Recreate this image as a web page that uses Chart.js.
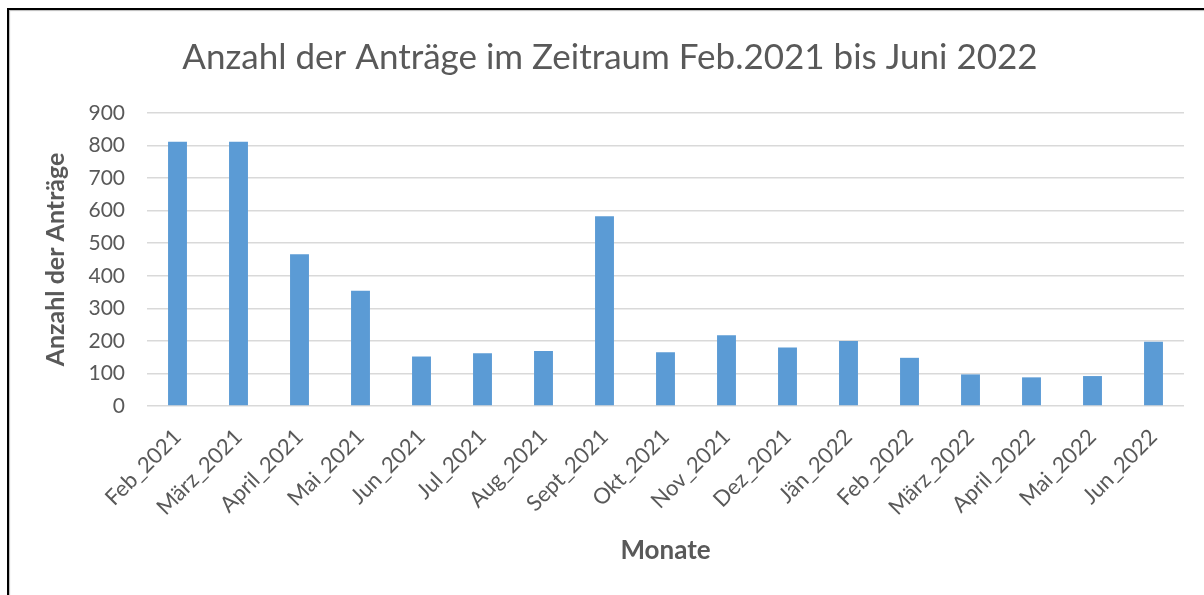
<!DOCTYPE html>
<html>
<head>
<meta charset="utf-8">
<script src="https://cdn.jsdelivr.net/npm/chart.js@4/dist/chart.umd.min.js"></script>
<style>
    body { margin: 0; overflow: hidden; background: #fff; }
    #wrap { position: relative; width: 1204px; height: 595px; }
    #frame { position: absolute; left: 7px; top: 8px; width: 1210px; height: 600px; border: 2px solid #000; box-shadow: inset 1px 1px 1px #bbb; pointer-events: none; }
</style>
</head>
<body>
<div id="wrap">
    <canvas id="antraegeChart"></canvas>
    <div id="frame"></div>
</div>
<script>
    const months = ['Feb_2021', 'März_2021', 'April_2021', 'Mai_2021', 'Jun_2021', 'Jul_2021', 'Aug_2021',
        'Sept_2021', 'Okt_2021', 'Nov_2021', 'Dez_2021', 'Jän_2022', 'Feb_2022', 'März_2022',
        'April_2022', 'Mai_2022', 'Jun_2022'];
    const antraege = [812, 812, 466, 354, 152, 162, 169, 583, 165, 217, 180, 200, 148, 97, 88, 92, 197];
    const yTicks = [0, 100, 200, 300, 400, 500, 600, 700, 800, 900];

    const textColor = '#595959';

    const ctx = document.getElementById('antraegeChart').getContext('2d');

    const myChart = new Chart(ctx, {
        type: 'bar',
        data: {
            labels: months,
            datasets: [{
                label: 'Anzahl der Anträge',
                data: antraege,
                backgroundColor: '#5B9BD5',
                borderWidth: 0,
                barPercentage: 0.31,
                categoryPercentage: 1
            }]
        },
        options: {
            responsive: true,
            maintainAspectRatio: false,
            animation: false,
            layout: {
                padding: { left: 36, right: 20, top: 0, bottom: 0 }
            },
            plugins: {
                legend: { display: false },
                tooltip: { enabled: false },
                title: {
                    display: true,
                    text: 'Anzahl der Anträge im Zeitraum Feb.2021 bis Juni 2022',
                    color: textColor,
                    font: { family: 'Lato', size: 35, weight: 'normal' },
                    padding: { top: 37, bottom: 34 }
                }
            },
            scales: {
                x: {
                    grid: { display: false },
                    border: { display: false },
                    ticks: {
                        color: textColor,
                        font: { family: 'Lato', size: 22 },
                        minRotation: 45,
                        maxRotation: 45,
                        autoSkip: false,
                        padding: 10
                    },
                    title: {
                        display: true,
                        text: 'Monate',
                        color: textColor,
                        font: { family: 'Lato', size: 26, weight: 'bold' },
                        padding: { top: 0, bottom: 29 }
                    },
                    afterFit: scale => { scale.height = 189; }
                },
                y: {
                    min: 0,
                    max: 900,
                    border: { display: false },
                    grid: { color: '#D9D9D9', lineWidth: 1.5, drawTicks: false },
                    afterBuildTicks: scale => { scale.ticks = yTicks.map(v => ({ value: v })); },
                    ticks: {
                        color: textColor,
                        font: { family: 'Lato', size: 21 },
                        padding: 22
                    },
                    title: {
                        display: true,
                        text: 'Anzahl der Anträge',
                        color: textColor,
                        font: { family: 'Lato', size: 25, weight: 'bold' },
                        padding: { top: 5, bottom: 0 }
                    },
                    afterFit: scale => { scale.width = 111; }
                }
            }
        }
    });
</script>
</body>
</html>
